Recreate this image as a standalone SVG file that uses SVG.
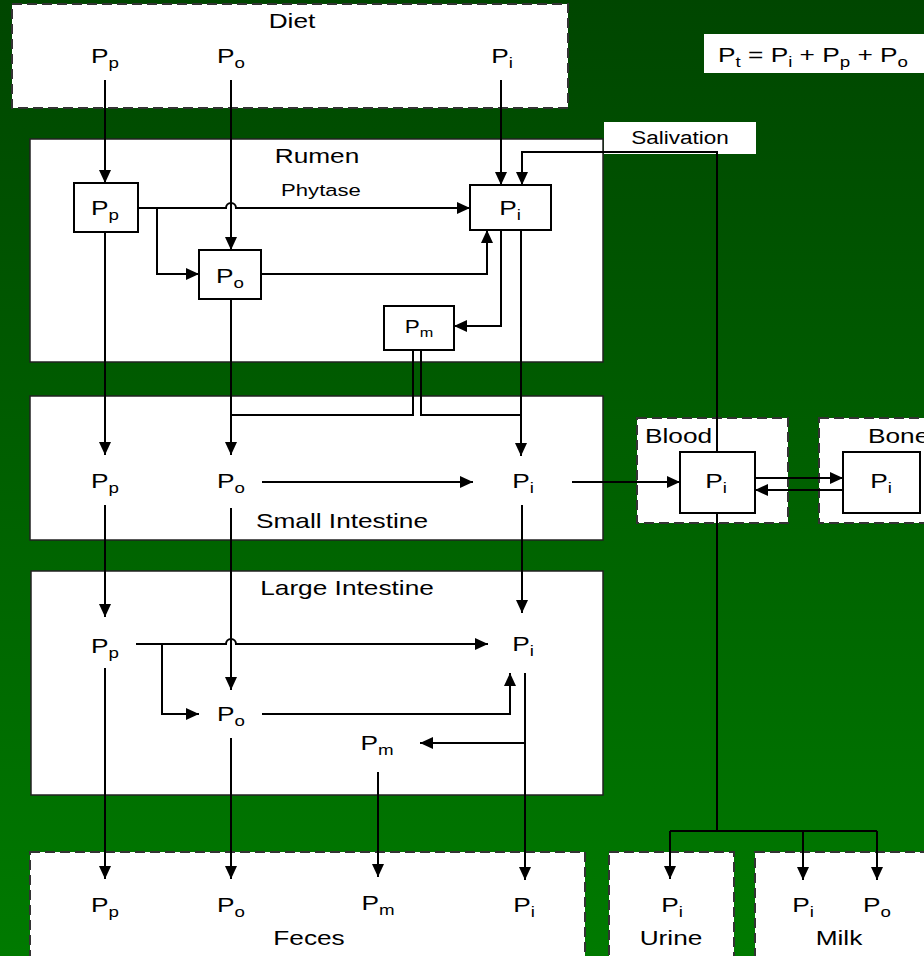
<svg xmlns="http://www.w3.org/2000/svg" width="924" height="956" viewBox="0 0 924 956">
<defs>
<linearGradient id="bg" x1="0" y1="0" x2="0" y2="1">
<stop offset="0" stop-color="#004600"/>
<stop offset="1" stop-color="#007a00"/>
</linearGradient>
<marker id="ah" markerUnits="userSpaceOnUse" markerWidth="14" markerHeight="12" refX="13" refY="6" orient="auto">
<path d="M0,0 L13,6 L0,12 z" fill="#000"/>
</marker>
<style>
text{font-family:"Liberation Sans",Arial,sans-serif;fill:#000;}
.t{font-size:21px;text-anchor:middle;}
.s{font-size:15px;}
.lbl{font-size:21px;text-anchor:middle;}
.dash{fill:#fff;stroke:#333;stroke-width:2;stroke-dasharray:10,5;}
.solid{fill:#fff;stroke:#222;stroke-width:1.5;}
.box{fill:#fff;stroke:#000;stroke-width:2;}
.c{fill:none;stroke:#000;stroke-width:2;}
.a{fill:none;stroke:#000;stroke-width:2;marker-end:url(#ah);}
</style>
</defs>
<rect width="924" height="956" fill="url(#bg)"/>

<g id="diet">
<rect class="dash" x="12" y="4" width="556" height="104"/>
<text class="lbl" transform="translate(292,28) scale(1.25,1)">Diet</text>
<text class="t" transform="translate(105,63) scale(1.25,1)">P<tspan class="s" dy="5">p</tspan></text>
<text class="t" transform="translate(231,63) scale(1.25,1)">P<tspan class="s" dy="5">o</tspan></text>
<text class="t" transform="translate(502,63) scale(1.25,1)">P<tspan class="s" dy="5">i</tspan></text>
</g>

<g id="formula">
<rect x="704" y="34" width="220" height="39" fill="#fff"/>
<text transform="translate(718,62) scale(1.25,1)" style="font-size:21px">P<tspan class="s" dy="5">t</tspan><tspan dy="-5"> = P</tspan><tspan class="s" dy="5">i</tspan><tspan dy="-5"> + P</tspan><tspan class="s" dy="5">p</tspan><tspan dy="-5"> + P</tspan><tspan class="s" dy="5">o</tspan></text>
</g>

<g id="rumen">
<rect class="solid" x="30" y="139" width="573" height="223"/>
<text class="lbl" transform="translate(317,163) scale(1.25,1)">Rumen</text>
<text transform="translate(321,196) scale(1.3,1)" style="font-size:17px;text-anchor:middle">Phytase</text>
</g>

<g id="salivation">
<rect x="604" y="122" width="152" height="32" fill="#fff"/>
<text transform="translate(680,144) scale(1.25,1)" style="font-size:18px;text-anchor:middle">Salivation</text>
</g>

<g id="rumen-pp">
<rect class="box" x="74" y="183" width="64" height="49"/>
<text class="t" transform="translate(105,215) scale(1.25,1)">P<tspan class="s" dy="5">p</tspan></text>
</g>
<g id="rumen-po">
<rect class="box" x="199" y="250" width="62" height="49"/>
<text class="t" transform="translate(230,283) scale(1.25,1)">P<tspan class="s" dy="5">o</tspan></text>
</g>
<g id="rumen-pi">
<rect class="box" x="470" y="185" width="81" height="45"/>
<text class="t" transform="translate(510,215) scale(1.25,1)">P<tspan class="s" dy="5">i</tspan></text>
</g>
<g id="rumen-pm">
<rect class="box" x="384" y="306" width="70" height="44"/>
<text transform="translate(419,333) scale(1.25,1)" style="font-size:18px;text-anchor:middle">P<tspan style="font-size:13px" dy="4">m</tspan></text>
</g>

<g id="small-intestine">
<rect class="solid" x="30" y="396" width="573" height="144"/>
<text class="lbl" transform="translate(342,528) scale(1.25,1)">Small Intestine</text>
<text class="t" transform="translate(105,488) scale(1.25,1)">P<tspan class="s" dy="5">p</tspan></text>
<text class="t" transform="translate(231,488) scale(1.25,1)">P<tspan class="s" dy="5">o</tspan></text>
<text class="t" transform="translate(523,488) scale(1.25,1)">P<tspan class="s" dy="5">i</tspan></text>
</g>

<g id="blood">
<rect class="dash" x="637" y="418" width="151" height="105"/>
<text transform="translate(645,443) scale(1.25,1)" style="font-size:21px">Blood</text>
<rect class="box" x="680" y="452" width="75" height="61"/>
<text class="t" transform="translate(716,488) scale(1.25,1)">P<tspan class="s" dy="5">i</tspan></text>
</g>

<g id="bone">
<rect class="dash" x="819" y="418" width="115" height="105"/>
<text transform="translate(868,443) scale(1.25,1)" style="font-size:21px">Bone</text>
<rect class="box" x="843" y="452" width="77" height="61"/>
<text class="t" transform="translate(881,488) scale(1.25,1)">P<tspan class="s" dy="5">i</tspan></text>
</g>

<g id="large-intestine">
<rect class="solid" x="31" y="571" width="572" height="224"/>
<text class="lbl" transform="translate(347,595) scale(1.25,1)">Large Intestine</text>
<text class="t" transform="translate(105,653) scale(1.25,1)">P<tspan class="s" dy="5">p</tspan></text>
<text class="t" transform="translate(523,651) scale(1.25,1)">P<tspan class="s" dy="5">i</tspan></text>
<text class="t" transform="translate(231,721) scale(1.25,1)">P<tspan class="s" dy="5">o</tspan></text>
<text class="t" transform="translate(377,750) scale(1.25,1)">P<tspan class="s" dy="5">m</tspan></text>
</g>

<g id="feces">
<rect class="dash" x="30" y="852" width="555" height="114"/>
<text class="t" transform="translate(105,912) scale(1.25,1)">P<tspan class="s" dy="5">p</tspan></text>
<text class="t" transform="translate(231,912) scale(1.25,1)">P<tspan class="s" dy="5">o</tspan></text>
<text class="t" transform="translate(378,910) scale(1.25,1)">P<tspan class="s" dy="5">m</tspan></text>
<text class="t" transform="translate(524,912) scale(1.25,1)">P<tspan class="s" dy="5">i</tspan></text>
<text class="lbl" transform="translate(309,945) scale(1.25,1)">Feces</text>
</g>

<g id="urine">
<rect class="dash" x="609" y="852" width="125" height="114"/>
<text class="t" transform="translate(672,912) scale(1.25,1)">P<tspan class="s" dy="5">i</tspan></text>
<text class="lbl" transform="translate(671,945) scale(1.25,1)">Urine</text>
</g>

<g id="milk">
<rect class="dash" x="755" y="852" width="179" height="114"/>
<text class="t" transform="translate(803,912) scale(1.25,1)">P<tspan class="s" dy="5">i</tspan></text>
<text class="t" transform="translate(877,912) scale(1.25,1)">P<tspan class="s" dy="5">o</tspan></text>
<text class="lbl" transform="translate(839,945) scale(1.25,1)">Milk</text>
</g>

<g id="connectors">
<path class="a" d="M105,80 V183"/>
<path class="a" d="M231,80 V250"/>
<path class="a" d="M501,80 V185"/>
<path class="a" d="M717,452 V152 H522 V185"/>
<path class="a" d="M138,208 H226 A5,5 0 0 1 236,208 H470"/>
<path class="a" d="M157,208 V274 H199"/>
<path class="a" d="M261,274 H487 V230"/>
<path class="a" d="M501,230 V326 H454"/>
<path class="a" d="M105,232 V455"/>
<path class="a" d="M231,299 V455"/>
<path class="a" d="M521,230 V456"/>
<path class="c" d="M413,350 V415 H231"/>
<path class="c" d="M421,350 V415 H521"/>
<path class="a" d="M262,482 H473"/>
<path class="a" d="M572,482 H680"/>
<path class="a" d="M755,478 H843"/>
<path class="a" d="M843,490 H755"/>
<path class="a" d="M105,505 V617"/>
<path class="a" d="M231,508 V690"/>
<path class="a" d="M522,505 V613"/>
<path class="a" d="M136,644 H226 A5,5 0 0 1 236,644 H488"/>
<path class="a" d="M162,644 V714 H199"/>
<path class="a" d="M262,714 H510 V673"/>
<path class="a" d="M525,673 V743 H420"/>
<path class="a" d="M105,668 V879"/>
<path class="a" d="M231,738 V879"/>
<path class="a" d="M378,772 V877"/>
<path class="a" d="M525,740 V880"/>
<path class="c" d="M717,513 V831"/>
<path class="c" d="M670,831 H877"/>
<path class="a" d="M670,831 V879"/>
<path class="a" d="M803,831 V880"/>
<path class="a" d="M877,831 V880"/>
</g>
</svg>
